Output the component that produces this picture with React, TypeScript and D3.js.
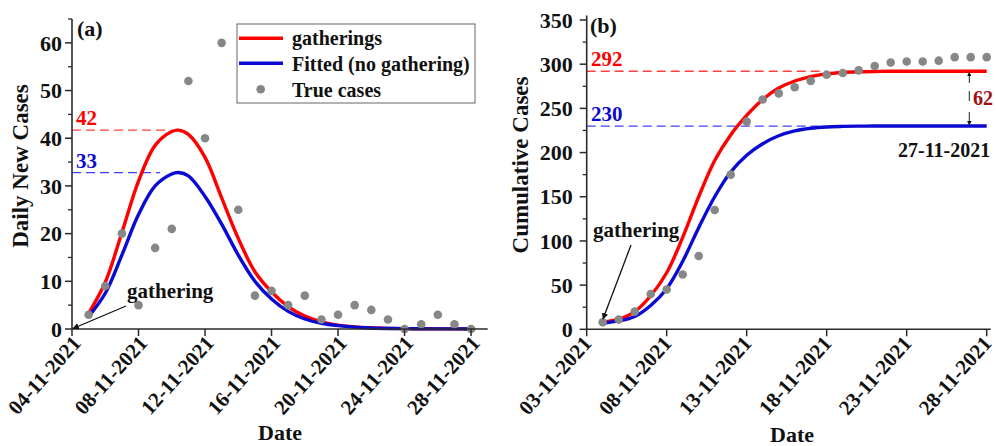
import React from "react";
import * as d3 from "d3";

// ---------- data ----------
// Panel (a): daily new cases (day of November 2021)
const trueDays = [5, 6, 7, 8, 9, 10, 11, 12, 13, 14, 15, 16, 17, 18, 19, 20, 21, 22, 23, 24, 25, 26, 27, 28];
const trueDaily = [3, 9, 20, 5, 17, 21, 52, 40, 60, 25, 7, 8, 5, 7, 2, 3, 5, 4, 2, 0, 1, 3, 1, 0];

const modelDailyDays = [5, 6, 7, 8, 9, 10, 10.4, 11, 12, 13, 14, 15, 16, 17, 18, 19, 20, 21, 22, 23, 24, 25, 26, 27, 28];
const gatheringsDaily = [3.3, 9.8, 20.2, 31, 38.5, 41.4, 41.7, 40.8, 36, 27.5, 19, 12, 7.8, 4.7, 2.7, 1.5, 0.8, 0.45, 0.25, 0.14, 0.08, 0.05, 0.03, 0.02, 0.01];
const fittedDaily = [2.6, 7.5, 15.5, 24, 30, 32.5, 32.8, 32.1, 27.8, 22, 15.5, 10, 6.3, 3.7, 2.1, 1.2, 0.7, 0.4, 0.22, 0.12, 0.07, 0.04, 0.03, 0.02, 0.01];

// Panel (b): cumulative cases
const cumDays = [4, 5, 6, 7, 8, 9, 10, 11, 12, 13, 14, 15, 16, 17, 18, 19, 20, 21, 22, 23, 24, 25, 26, 27, 28];
const trueCumulative = [8, 11, 20, 40, 45, 62, 83, 135, 175, 235, 260, 267, 274, 281, 288, 290, 293, 298, 302, 303, 303, 304, 308, 308, 308];
const gatheringsCum = [8, 11.5, 20, 38, 64, 104, 150, 191, 220, 242, 260, 273, 281, 286, 289, 290.6, 291.4, 291.8, 292, 292, 292, 292, 292, 292, 292];
const fittedCum = [7, 9.5, 14.5, 27, 46, 77, 115, 150, 178, 197, 210, 219, 224.5, 227.5, 229, 229.6, 229.9, 230, 230, 230, 230, 230, 230, 230, 230];

// ticks
const dailyYTicks = [0, 10, 20, 30, 40, 50, 60];
const dailyYMinor = [5, 15, 25, 35, 45, 55, 65];
const dailyXTicks = [4, 8, 12, 16, 20, 24, 28];
const dailyXLabels = ["04-11-2021", "08-11-2021", "12-11-2021", "16-11-2021", "20-11-2021", "24-11-2021", "28-11-2021"];
const cumYTicks = [0, 50, 100, 150, 200, 250, 300, 350];
const cumYMinor = [25, 75, 125, 175, 225, 275, 325];
const cumXTicks = [3, 8, 13, 18, 23, 28];
const cumXLabels = ["03-11-2021", "08-11-2021", "13-11-2021", "18-11-2021", "23-11-2021", "28-11-2021"];

// annotations
const peakGatherings = 42;
const peakFitted = 33;
const finalGatherings = 292;
const finalFitted = 230;
const difference = 62;

// ---------- styles ----------
const FONT = "'Liberation Serif', 'Times New Roman', serif";
const RED = "#ff0000";
const BLUE = "#0a0ad2";
const GRAY = "#878787";
const AXIS = "#2a2a2a";

export default function App() {
  const xA = d3.scaleLinear().domain([4, 29]).range([72, 487.7]);
  const yA = d3.scaleLinear().domain([0, 65]).range([329, 19]);
  const xB = d3.scaleLinear().domain([3, 28.25]).range([586.7, 990.7]);
  const yB = d3.scaleLinear().domain([0, 355]).range([329.3, 15.6]);

  const smooth = d3.curveCatmullRom.alpha(0.5);
  const lineA = (vals: number[]) =>
    d3.line<number>().x((_, i) => xA(modelDailyDays[i])).y((v) => yA(v)).curve(smooth)(vals) || "";
  const lineB = (vals: number[]) =>
    d3.line<number>().x((_, i) => xB(cumDays[i])).y((v) => yB(v)).curve(smooth)(vals) || "";

  const txt = { fontFamily: FONT, fontWeight: 700 as const };

  const yAxis = (x0: number, y: d3.ScaleLinear<number, number>, ticks: number[], minor: number[], gap: number) => (
    <g>
      <line x1={x0} x2={x0} y1={y.range()[0]} y2={y.range()[1]} stroke={AXIS} strokeWidth={1.6} />
      {ticks.map((t) => (
        <g key={"t" + t}>
          <line x1={x0 - 7} x2={x0} y1={y(t)} y2={y(t)} stroke={AXIS} strokeWidth={1.5} />
          <text x={x0 - gap} y={y(t)} dy="0.35em" textAnchor="end" fontSize={22} style={txt} fill="#111">
            {t}
          </text>
        </g>
      ))}
      {minor.map((t) => (
        <line key={"m" + t} x1={x0 - 4} x2={x0} y1={y(t)} y2={y(t)} stroke={AXIS} strokeWidth={1.3} />
      ))}
    </g>
  );

  const xAxis = (y0: number, x: d3.ScaleLinear<number, number>, ticks: number[], labels: string[], dx: number) => (
    <g>
      <line x1={x.range()[0]} x2={x.range()[1]} y1={y0} y2={y0} stroke={AXIS} strokeWidth={1.6} />
      {ticks.map((t, i) => (
        <g key={"x" + t}>
          <line x1={x(t)} x2={x(t)} y1={y0} y2={y0 + 7} stroke={AXIS} strokeWidth={1.5} />
          <text
            transform={`translate(${x(t) + dx},${y0 + 15}) rotate(-48)`}
            textAnchor="end"
            fontSize={21}
            style={txt}
            fill="#111"
          >
            {labels[i]}
          </text>
        </g>
      ))}
    </g>
  );

  return (
    <svg width={996} height={446} style={{ position: "absolute", left: 0, top: 0, background: "#fff" }}>
      <defs>
        <marker id="ah" viewBox="0 0 10 10" refX="9" refY="5" markerWidth="5" markerHeight="5" orient="auto-start-reverse">
          <path d="M0,0 L10,5 L0,10 z" fill="#111" />
        </marker>
        <marker id="ahs" viewBox="0 0 10 10" refX="9" refY="5" markerWidth="4.5" markerHeight="4.5" orient="auto-start-reverse">
          <path d="M0,0 L10,5 L0,10 z" fill="#111" />
        </marker>
      </defs>

      {/* ---------- Panel (a) ---------- */}
      <line x1={xA(4)} x2={xA(9.8)} y1={yA(41.7)} y2={yA(41.7)} stroke="#ff4040" strokeWidth={1.3} strokeDasharray="9 5" />
      <line x1={xA(4)} x2={xA(9.3)} y1={yA(32.8)} y2={yA(32.8)} stroke="#4040ff" strokeWidth={1.3} strokeDasharray="9 5" />
      <text x={76} y={125} fontSize={21} style={txt} fill={RED}>{peakGatherings}</text>
      <text x={76} y={168} fontSize={21} style={txt} fill={BLUE}>{peakFitted}</text>

      <path d={lineA(gatheringsDaily)} fill="none" stroke={RED} strokeWidth={3.4} />
      <path d={lineA(fittedDaily)} fill="none" stroke={BLUE} strokeWidth={3.4} />
      {trueDays.map((d, i) => (
        <circle key={"a" + d} cx={xA(d)} cy={yA(trueDaily[i])} r={4.3} fill={GRAY} />
      ))}

      {yAxis(72, yA, dailyYTicks, dailyYMinor, 10)}
      {xAxis(329, xA, dailyXTicks, dailyXLabels, 10)}

      <text x={77} y={36} fontSize={22} style={txt} fill="#111">(a)</text>
      <text transform={`translate(28,166) rotate(-90)`} textAnchor="middle" fontSize={23} style={txt} fill="#111">
        Daily New Cases
      </text>
      <text x={280} y={440} textAnchor="middle" fontSize={22} style={txt} fill="#111">Date</text>

      <text x={127} y={298} fontSize={21} style={txt} fill="#111">gathering</text>
      <line x1={126} y1={306} x2={xA(4) + 1} y2={yA(0) - 0.5} stroke="#111" strokeWidth={1.3} markerEnd="url(#ah)" />

      {/* legend */}
      <rect x={237} y={24} width={238} height={79} fill="#fff" stroke="#666" strokeWidth={1} />
      <line x1={239} x2={283} y1={38.3} y2={38.3} stroke={RED} strokeWidth={3.4} />
      <line x1={239} x2={283} y1={63.3} y2={63.3} stroke={BLUE} strokeWidth={3.4} />
      <circle cx={260.7} cy={89.3} r={4.3} fill={GRAY} />
      <text x={292} y={45} fontSize={20} style={txt} fill="#111">gatherings</text>
      <text x={292} y={71} fontSize={20} style={txt} fill="#111">Fitted (no gathering)</text>
      <text x={292} y={96.5} fontSize={20} style={txt} fill="#111">True cases</text>

      {/* ---------- Panel (b) ---------- */}
      <line x1={xB(3)} x2={xB(18)} y1={yB(finalGatherings)} y2={yB(finalGatherings)} stroke="#ff4040" strokeWidth={1.3} strokeDasharray="9 5" />
      <line x1={xB(3)} x2={xB(17.5)} y1={yB(finalFitted)} y2={yB(finalFitted)} stroke="#4040ff" strokeWidth={1.3} strokeDasharray="9 5" />
      <text x={591} y={66} fontSize={21} style={txt} fill={RED}>{finalGatherings}</text>
      <text x={591} y={121} fontSize={21} style={txt} fill={BLUE}>{finalFitted}</text>

      <path d={lineB(gatheringsCum)} fill="none" stroke={RED} strokeWidth={3.4} />
      <path d={lineB(fittedCum)} fill="none" stroke={BLUE} strokeWidth={3.4} />
      {cumDays.map((d, i) => (
        <circle key={"b" + d} cx={xB(d)} cy={yB(trueCumulative[i])} r={4.3} fill={GRAY} />
      ))}

      {yAxis(586.7, yB, cumYTicks, cumYMinor, 14)}
      {xAxis(329.3, xB, cumXTicks, cumXLabels, 6)}

      <text x={590} y={33} fontSize={22} style={txt} fill="#111">(b)</text>
      <text transform={`translate(528,165) rotate(-90)`} textAnchor="middle" fontSize={23} style={txt} fill="#111">
        Cumulative Cases
      </text>
      <text x={792} y={442} textAnchor="middle" fontSize={22} style={txt} fill="#111">Date</text>

      <text x={593} y={237} fontSize={21} style={txt} fill="#111">gathering</text>
      <line x1={631} y1={245} x2={603} y2={319} stroke="#111" strokeWidth={1.3} markerEnd="url(#ah)" />

      {/* difference arrow */}
      <line x1={969.3} x2={969.3} y1={yB(finalGatherings) + 1} y2={yB(finalFitted) - 1} stroke="#222" strokeWidth={1}
        markerStart="url(#ahs)" markerEnd="url(#ahs)" />
      <rect x={966} y={83} width={7} height={8} fill="#fff" />
      <rect x={966} y={101} width={7} height={11} fill="#fff" />
      <text x={973} y={105} fontSize={20} style={txt} fill="#a01010">{difference}</text>
      <text x={898} y={157} fontSize={20} style={txt} fill="#111">27-11-2021</text>
    </svg>
  );
}
